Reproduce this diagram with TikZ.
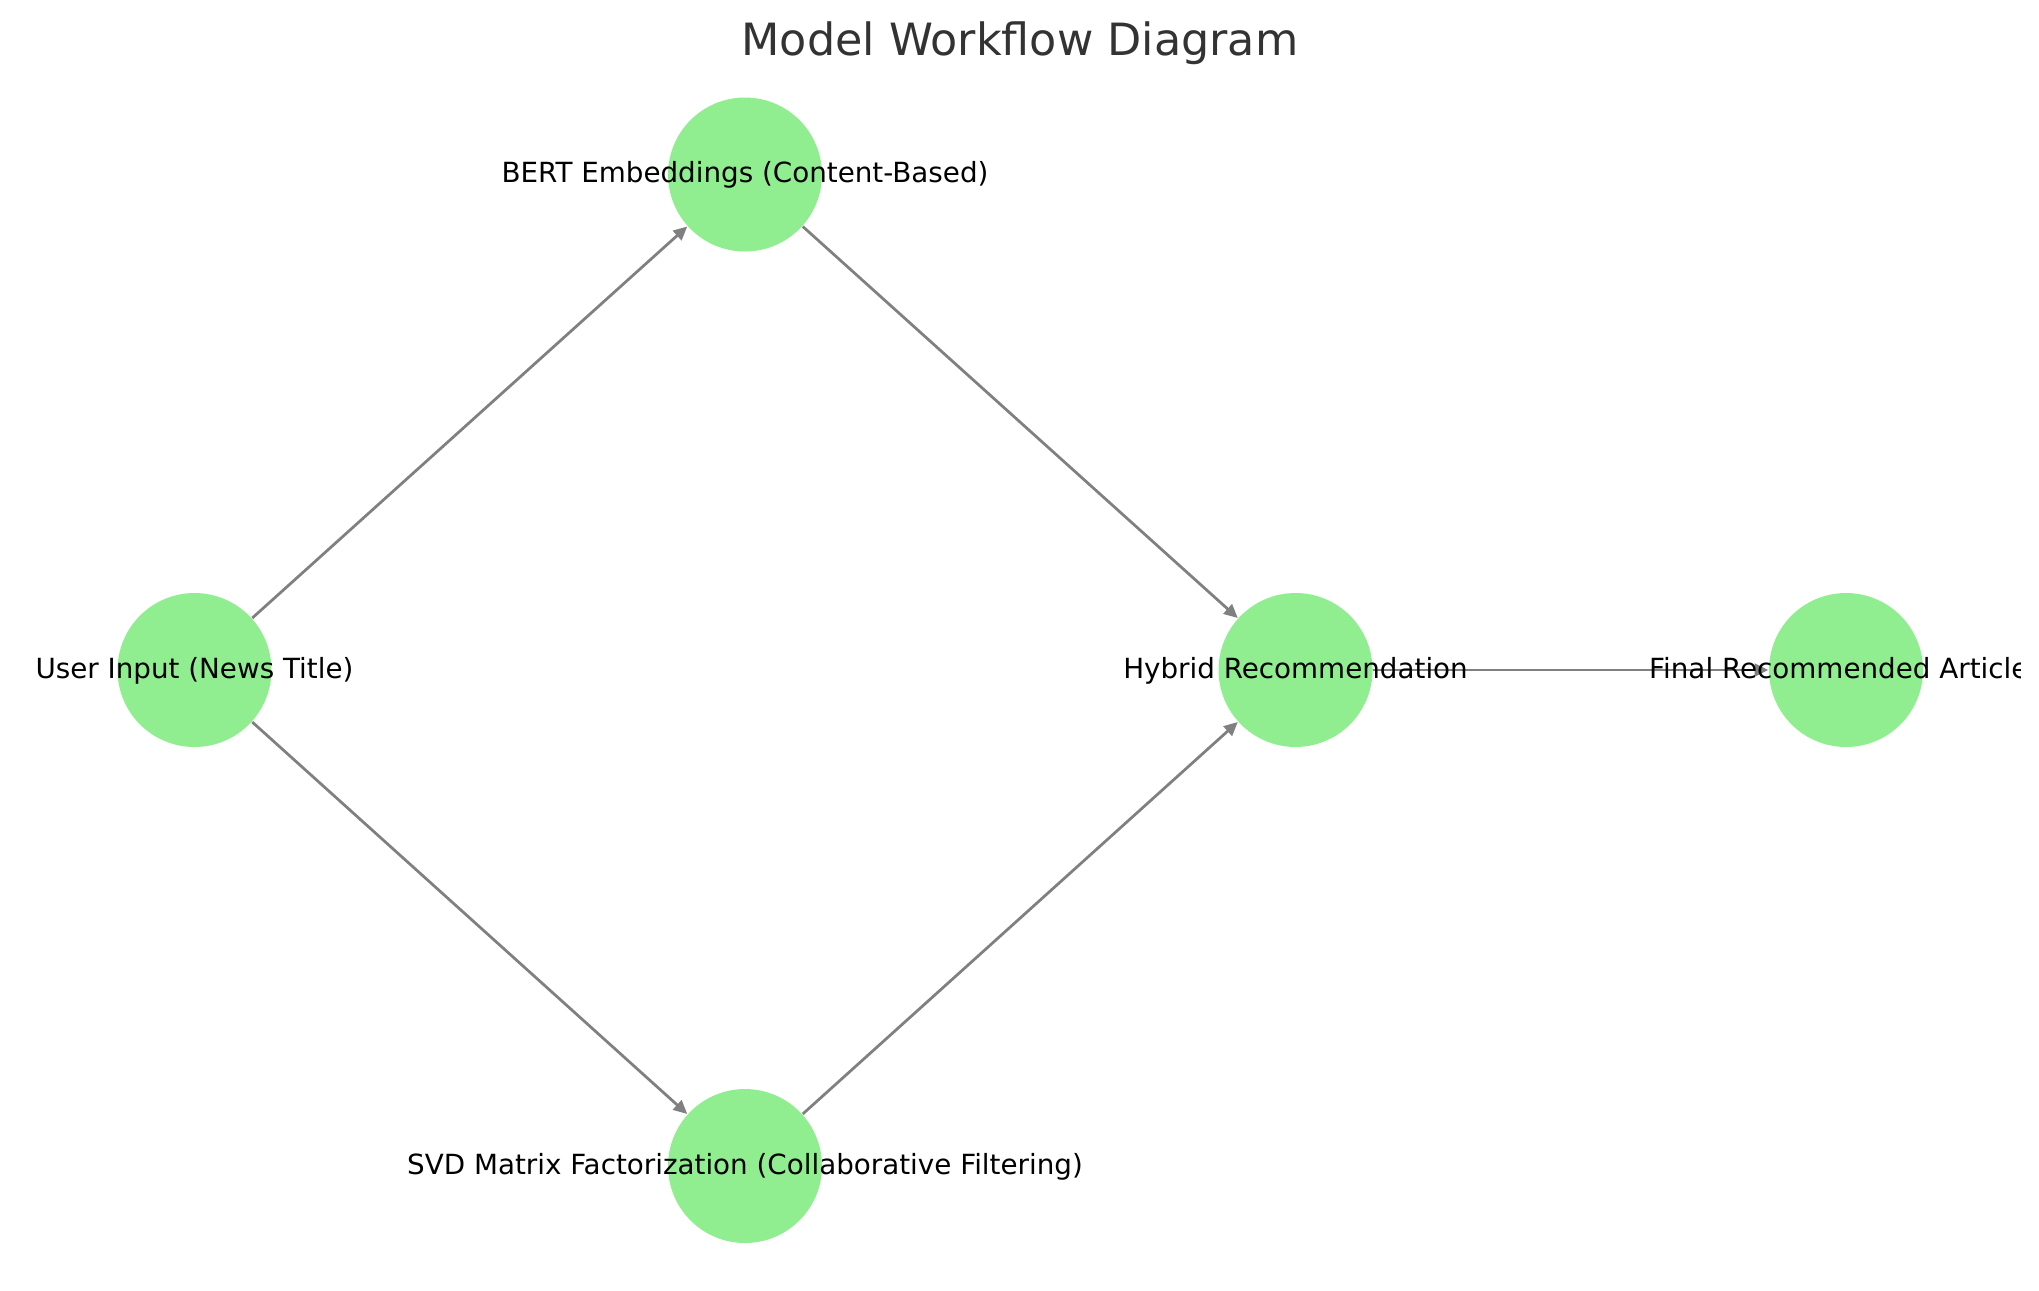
\documentclass[tikz,border=0pt]{standalone}
\usepackage{fontspec}
\setmainfont{DejaVu Sans}
\usetikzlibrary{arrows.meta,calc}
\definecolor{nodegreen}{HTML}{90EE90}
\definecolor{edgegray}{HTML}{808080}
\definecolor{titlegray}{HTML}{333333}
\tikzset{
  vertex/.style={circle, fill=nodegreen, draw=none, minimum size=1.54cm, inner sep=0pt},
  lbl/.style={anchor=base, inner sep=0pt, font=\fontsize{7.9pt}{9pt}\selectfont, text=black},
  flow/.style={draw=edgegray, line width=0.79pt, -{Triangle[length=3.9pt,width=3.6pt]}},
  ttl/.style={anchor=base, inner sep=0pt, font=\fontsize{12.65pt}{15pt}\selectfont, text=titlegray}
}
\begin{document}
\begin{tikzpicture}
\useasboundingbox (0,0) rectangle (20.39,-12.90);
% nodes
\node[vertex] (u) at (1.945,-6.70) {};
\node[vertex] (b) at (7.45,-1.745) {};
\node[vertex] (s) at (7.45,-11.66) {};
\node[vertex] (h) at (12.955,-6.70) {};
\node[vertex] (f) at (18.46,-6.70) {};
% edges
\draw[flow] (u) -- (b);
\draw[flow] (u) -- (s);
\draw[flow] (b) -- (h);
\draw[flow] (s) -- (h);
\draw[flow] (h) -- (f);
% labels
\begin{scope}
\clip (0,0) rectangle (20.20,-12.90);
\node[lbl] (ul) at ($(u)+(0,-0.083)$) {User Input (News Title)};
\node[lbl] (bl) at ($(b)+(0,-0.083)$) {BERT Embeddings (Content-Based)};
\node[lbl] (sl) at ($(s)+(0,-0.083)$) {SVD Matrix Factorization (Collaborative Filtering)};
\node[lbl] (hl) at ($(h)+(0,-0.083)$) {Hybrid Recommendation};
\node[lbl] (fl) at ($(f)+(0,-0.083)$) {Final Recommended Articles};
\end{scope}
% title
\node[ttl] (title) at (10.20,-0.55) {Model Workflow Diagram};
\end{tikzpicture}
\end{document}
